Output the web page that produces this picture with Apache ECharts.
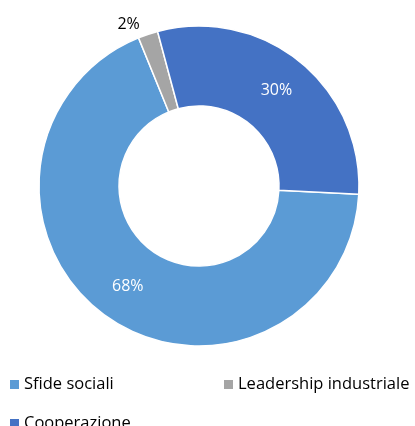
<!DOCTYPE html>
<html>
<head>
<meta charset="utf-8">
<script src="https://cdn.jsdelivr.net/npm/echarts@6/dist/echarts.min.js"></script>
<style>
  html, body { margin: 0; padding: 0; background: #fff; }
  #chart { width: 415px; height: 426px; }
</style>
</head>
<body>
<div id="chart"></div>
<script>
// dati
const categories = ['Sfide sociali', 'Leadership industriale', 'Cooperazione'];
const values = [68, 2, 30];
const colors = ['#5B9BD5', '#A5A5A5', '#4472C4'];

const fontFamily = '"Open Sans", sans-serif';

const pieData = categories.map((name, i) => {
  const item = { name: name, value: values[i], itemStyle: { color: colors[i] } };
  if (values[i] < 5) {
    // fetta piccola: etichetta fuori, in nero
    item.label = { position: 'outside', color: '#000' };
  }
  return item;
});

const legendBase = {
  icon: 'rect',
  itemWidth: 9,
  itemHeight: 9,
  itemGap: 6,
  itemStyle: { borderWidth: 0 },
  textStyle: { fontFamily: fontFamily, fontSize: 16.5, color: '#000' }
};

const option = {
  animation: false,
  legend: [
    Object.assign({}, legendBase, { data: [categories[0]], left: 5, top: 371 }),
    Object.assign({}, legendBase, { data: [categories[1]], left: 219, top: 371 }),
    Object.assign({}, legendBase, { data: [categories[2]], left: 5, top: 410 })
  ],
  series: [{
    type: 'pie',
    center: [199, 186],
    radius: [80, 160],
    startAngle: -3,
    clockwise: true,
    avoidLabelOverlap: false,
    itemStyle: { borderColor: '#fff', borderWidth: 1.5 },
    label: {
      show: true,
      position: 'inside',
      formatter: '{d}%',
      fontFamily: fontFamily,
      fontSize: 16,
      color: '#fff'
    },
    labelLine: { show: false, length: 10, length2: 0 },
    data: pieData
  }]
};

const chart = echarts.init(document.getElementById('chart'));
chart.setOption(option);
</script>
</body>
</html>
